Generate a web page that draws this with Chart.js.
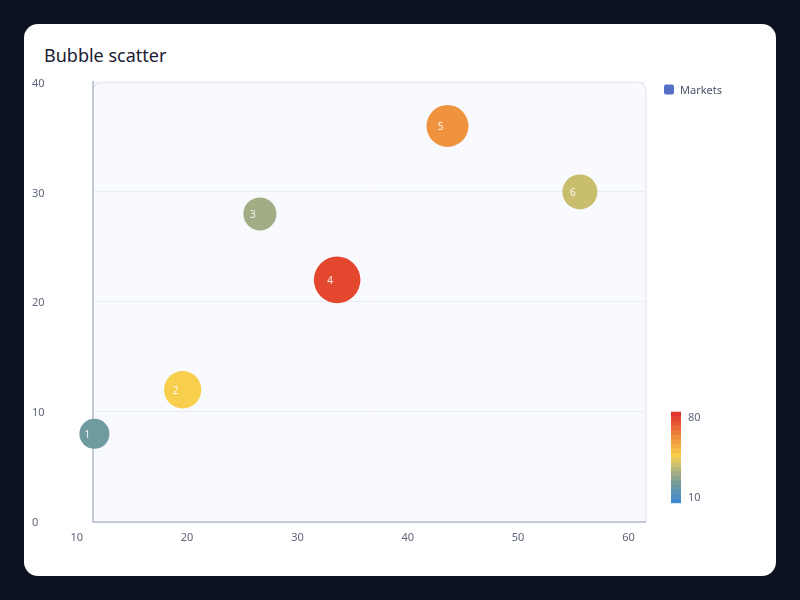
<!DOCTYPE html>
<html lang="en">
<head>
    <meta charset="UTF-8">
    <title>Bubble scatter</title>
    <style>
        body { margin: 0; width: 800px; height: 600px; overflow: hidden; background: #0d1220; font-family: 'Noto Sans', sans-serif; }
        .card { position: absolute; left: 24px; top: 24px; width: 752px; height: 552px; background: #ffffff; border-radius: 14px; }
        .card h1 { position: absolute; left: 20px; top: 19px; margin: 0; font-size: 18px; line-height: 24px; font-weight: 400; color: #1b2030; }
        #bubbleChart { position: absolute; left: 0; top: 0; }
    </style>
</head>
<body>
    <div class="card">
        <h1>Bubble scatter</h1>
        <canvas id="bubbleChart" width="752" height="552"></canvas>
    </div>

    <script src="https://cdn.jsdelivr.net/npm/chart.js"></script>
    <script>
        // dados
        const seriesName = 'Markets';
        const pointLabels = ['1', '2', '3', '4', '5', '6'];
        const xValues = [11.6, 19.6, 26.6, 33.6, 43.6, 55.6];
        const yValues = [8, 12, 28, 22, 36, 30];
        const sizeValues = [24, 46, 33, 74, 60, 39];
        const xTicks = [10, 20, 30, 40, 50, 60];
        const yTicks = [0, 10, 20, 30, 40];
        const colorScaleTicks = [10, 80];

        const sizeMin = 10, sizeMax = 80;
        const radiusMin = 12.7, radiusMax = 24.3;

        // escala de cores (valor -> cor)
        const colorStops = [
            [10, '#3a86d6'], [24, '#6f9a9f'], [33, '#a2ad86'], [39, '#c9be6e'],
            [46, '#f8cf4d'], [60, '#f0933f'], [74, '#e3482f'], [80, '#df2f2a']
        ];

        function hexToRgb(h) {
            return [parseInt(h.slice(1, 3), 16), parseInt(h.slice(3, 5), 16), parseInt(h.slice(5, 7), 16)];
        }

        function colorFor(v) {
            if (v <= colorStops[0][0]) return colorStops[0][1];
            for (let i = 1; i < colorStops.length; i++) {
                const [v1, c1] = colorStops[i];
                const [v0, c0] = colorStops[i - 1];
                if (v <= v1) {
                    const t = (v - v0) / (v1 - v0);
                    const a = hexToRgb(c0), b = hexToRgb(c1);
                    const rgb = a.map((x, k) => Math.round(x + (b[k] - x) * t));
                    return 'rgb(' + rgb.join(',') + ')';
                }
            }
            return colorStops[colorStops.length - 1][1];
        }

        function radiusFor(v) {
            return radiusMin + (v - sizeMin) / (sizeMax - sizeMin) * (radiusMax - radiusMin);
        }

        // fundo da área do gráfico
        const plotBackground = {
            id: 'plotBackground',
            beforeDraw(chart) {
                const { ctx, chartArea: a } = chart;
                ctx.save();
                ctx.beginPath();
                ctx.roundRect(a.left, a.top + 0.5, a.width + 1, a.height, [7, 8, 0, 4]);
                ctx.fillStyle = '#f9fafe';
                ctx.fill();
                ctx.strokeStyle = '#e5e8f0';
                ctx.lineWidth = 1.3;
                ctx.stroke();
                ctx.restore();
            }
        };

        // números dentro das bolhas
        const bubbleLabels = {
            id: 'bubbleLabels',
            afterDatasetsDraw(chart) {
                const { ctx } = chart;
                const meta = chart.getDatasetMeta(0);
                ctx.save();
                ctx.font = '10px "Noto Sans", sans-serif';
                ctx.fillStyle = 'rgba(255,255,255,0.9)';
                ctx.textAlign = 'center';
                ctx.textBaseline = 'middle';
                meta.data.forEach((el, i) => {
                    ctx.fillText(pointLabels[i], el.x - 7, el.y + 1);
                });
                ctx.restore();
            }
        };

        // legenda + barra de cores
        const sideLegend = {
            id: 'sideLegend',
            afterDraw(chart) {
                const { ctx, chartArea: a } = chart;
                ctx.save();
                // item da legenda
                const lx = a.right + 19, ly = a.top + 2.5;
                ctx.beginPath();
                ctx.roundRect(lx, ly, 10, 10, 2);
                ctx.fillStyle = '#5470c6';
                ctx.fill();
                ctx.font = '11px "Noto Sans", sans-serif';
                ctx.fillStyle = '#4a5266';
                ctx.textBaseline = 'middle';
                ctx.textAlign = 'left';
                ctx.fillText(seriesName, lx + 16, ly + 6.5);

                // barra de cores
                const bx = a.right + 26, bw = 10;
                const bBottom = a.bottom - 19, bTop = a.bottom - 110;
                const bands = 20;
                const bh = (bBottom - bTop) / bands;
                for (let i = 0; i < bands; i++) {
                    const v = sizeMin + (i + 0.5) / bands * (sizeMax - sizeMin);
                    ctx.fillStyle = colorFor(v);
                    ctx.fillRect(bx, bBottom - (i + 1) * bh, bw, bh + 0.5);
                }
                ctx.font = '11px "Noto Sans", sans-serif';
                ctx.fillStyle = '#5f6679';
                colorScaleTicks.forEach(v => {
                    const y = bBottom - (v - sizeMin) / (sizeMax - sizeMin) * (bBottom - bTop);
                    const yy = v === sizeMax ? y + 6 : y - 5;
                    ctx.fillText(String(v), bx + 17, yy);
                });
                ctx.restore();
            }
        };

        Chart.defaults.font.family = "'Noto Sans', sans-serif";

        const ctxBubble = document.getElementById('bubbleChart').getContext('2d');

        const bubbleChart = new Chart(ctxBubble, {
            type: 'bubble',
            data: {
                datasets: [
                    {
                        label: seriesName,
                        data: xValues.map((x, i) => ({ x: x, y: yValues[i], r: radiusFor(sizeValues[i]) })),
                        backgroundColor: sizeValues.map(v => colorFor(v)),
                        borderWidth: 0,
                        hoverBorderWidth: 0,
                        clip: false
                    }
                ]
            },
            options: {
                responsive: false,
                animation: false,
                events: [],
                layout: {
                    padding: { top: 58, right: 131, bottom: 24, left: 8 }
                },
                plugins: {
                    legend: { display: false },
                    title: { display: false },
                    tooltip: { enabled: false }
                },
                scales: {
                    x: {
                        type: 'linear',
                        min: 11.5,
                        max: 61.5,
                        afterBuildTicks: scale => { scale.ticks = xTicks.map(v => ({ value: v })); },
                        afterFit: scale => { scale.height = 30.3; },
                        grid: { display: false, drawTicks: false },
                        border: { display: true, color: '#c3cad6', width: 2 },
                        ticks: {
                            autoSkip: false,
                            maxRotation: 0,
                            padding: 10,
                            color: '#5f6679',
                            font: { size: 11 }
                        }
                    },
                    y: {
                        type: 'linear',
                        min: 0,
                        max: 40,
                        afterBuildTicks: scale => { scale.ticks = yTicks.map(v => ({ value: v })); },
                        afterFit: scale => { scale.width = 61.3; },
                        grid: { color: '#e8ebf2', lineWidth: 1, drawTicks: false },
                        border: { display: true, color: '#c3cad6', width: 2 },
                        ticks: {
                            crossAlign: 'far',
                            padding: 0,
                            labelOffset: 1.5,
                            color: '#5f6679',
                            font: { size: 11 }
                        }
                    }
                }
            },
            plugins: [plotBackground, bubbleLabels, sideLegend]
        });
    </script>
</body>
</html>
